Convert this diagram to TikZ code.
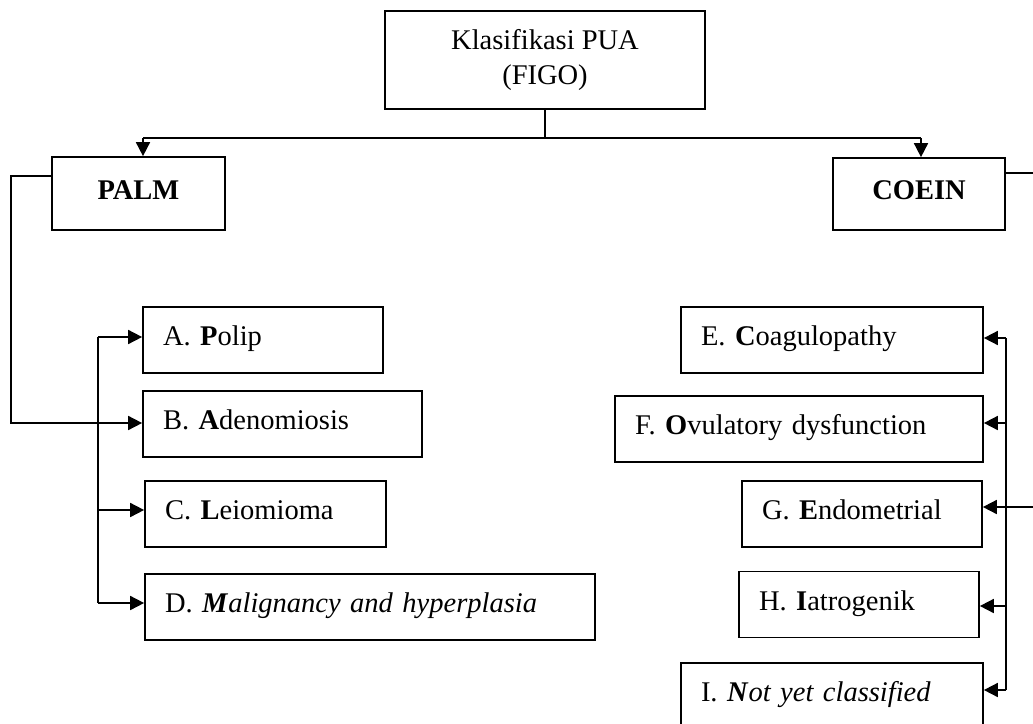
\documentclass[tikz,border=0pt]{standalone}
\usepackage{fontspec}
\setmainfont{Liberation Serif}
\usetikzlibrary{arrows.meta,calc}
\tikzset{
  box/.style={draw, line width=1.7pt, inner xsep=20pt, inner ysep=0pt, minimum height=66pt,
    font=\fontsize{28.5}{35}\selectfont, text height=20pt, text depth=9pt, align=left},
  cbox/.style={box, align=center},
  ln/.style={line width=1.7pt},
  arr/.style={line width=1.7pt, -{Triangle[length=14pt,width=14pt]}}
}
\begin{document}
\begin{tikzpicture}[x=1pt,y=-1pt]
\useasboundingbox (0,0) rectangle (1033,723);
\clip (0,0) rectangle (1033,723);
% top
\node[draw, line width=1.7pt, minimum width=320pt, minimum height=98pt, inner sep=0pt,
      align=center, font=\fontsize{28.5}{35}\selectfont] (top) at (545,60) {Klasifikasi PUA\\(FIGO)};
\node[cbox, minimum width=173pt, minimum height=73pt, inner xsep=0pt] (palm) at (138.5,193.5) {\textbf{PALM}};
\node[cbox, minimum width=172pt, minimum height=72pt, inner xsep=0pt] (coein) at (919,194) {\textbf{COEIN}};
% left boxes
\node[box, minimum width=240pt, text width=200pt] (A) at (263,340) {\mbox{A. \textbf{P}olip}};
\node[box, minimum width=279pt, text width=239pt] (B) at (282.5,424) {\mbox{B. \textbf{A}denomiosis}};
\node[box, minimum width=241pt, text width=201pt] (C) at (265.5,514) {\mbox{C. \textbf{L}eiomioma}};
\node[box, minimum width=450pt, text width=410pt] (D) at (370,607) {\mbox{D. \textbf{\textit{M}}\textit{alignancy and hyperplasia}}};
% right boxes
\node[box, minimum width=302pt, text width=262pt] (E) at (832,340) {\mbox{E. \textbf{C}oagulopathy}};
\node[box, minimum width=368pt, text width=328pt] (F) at (799,429) {\mbox{F. \textbf{O}vulatory dysfunction}};
\node[box, minimum width=240pt, text width=200pt] (G) at (862,514) {\mbox{G. \textbf{E}ndometrial}};
\node[box, minimum width=240pt, text width=200pt] (H) at (859,604.5) {\mbox{H. \textbf{I}atrogenik}};
\node[box, minimum width=302pt, text width=262pt] (I) at (832,696) {\mbox{I. \textbf{\textit{N}}\textit{ot yet classified}}};
% top connectors
\coordinate (hl) at (143,138);
\coordinate (hr) at (921,138);
\draw[ln] (top.south) -- (top.south |- hl);
\draw[ln] (hl) -- (hr);
\draw[arr] (hl) -- (hl |- palm.north);
\draw[arr] (hr) -- (hr |- coein.north);
% left connectors
\coordinate (Aw) at ([yshift=3pt]A.west);
\coordinate (Bw) at ([yshift=1pt]B.west);
\coordinate (Cw) at ([yshift=4pt]C.west);
\coordinate (Dw) at ([yshift=4pt]D.west);
\coordinate (sl) at (98,337);
\draw[arr] ([yshift=17.5pt]palm.west) -- ++(-40,0) |- (Bw);
\draw[ln] (Aw -| sl) -- (Dw -| sl);
\draw[arr] (Aw -| sl) -- (Aw);
\draw[arr] (Cw -| sl) -- (Cw);
\draw[arr] (Dw -| sl) -- (Dw);
% right connectors
\coordinate (Ee) at ([yshift=2pt]E.east);
\coordinate (Fe) at ([yshift=6pt]F.east);
\coordinate (Ge) at ([yshift=7pt]G.east);
\coordinate (He) at ([yshift=-1.5pt]H.east);
\coordinate (Ie) at ([yshift=6pt]I.east);
\coordinate (sr) at (1006,338);
\draw[arr] ([yshift=21pt]coein.east) -- ++(42,0) |- (Ge);
\draw[ln] (Ee -| sr) -- (Ie -| sr);
\draw[arr] (Ee -| sr) -- (Ee);
\draw[arr] (Fe -| sr) -- (Fe);
\draw[arr] (He -| sr) -- (He);
\draw[arr] (Ie -| sr) -- (Ie);
\end{tikzpicture}
\end{document}
